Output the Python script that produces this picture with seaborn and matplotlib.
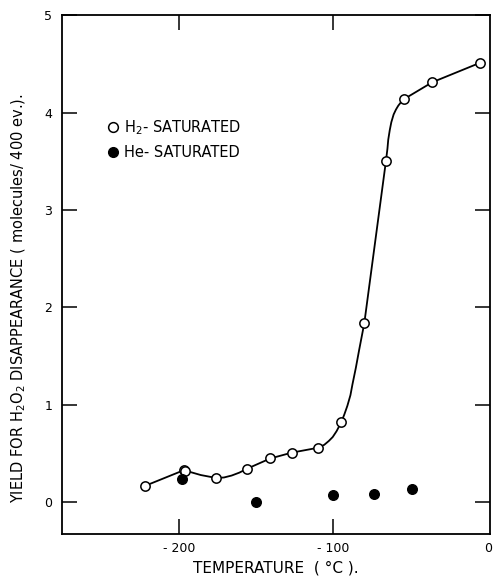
import matplotlib
matplotlib.use("Agg")
import matplotlib.pyplot as plt
import seaborn as sns
import pandas as pd
from matplotlib.lines import Line2D

# H2-saturated measurements (open circles)
h2_temp = [-222, -197, -196, -176, -156, -141, -127, -110, -95, -80, -66, -54, -36, -5]
h2_yield = [0.17, 0.33, 0.32, 0.25, 0.345, 0.45, 0.51, 0.56, 0.82, 1.84, 3.50, 4.14, 4.31, 4.51]

# He-saturated measurements (filled circles)
he_temp = [-198, -150, -100, -74, -49]
he_yield = [0.24, 0.0, 0.075, 0.09, 0.14]

# hand-drawn curve through the H2 points
curve_temp = [-222, -197, -186, -176, -171, -166, -161, -156, -141, -127, -110, -106, -103,
              -100.5, -98, -95, -93, -91, -89, -87.7, -85.5, -83.4, -80, -66, -65, -64.5,
              -63.5, -62.5, -61, -59.5, -58, -56, -54, -36, -5]
curve_yield = [0.17, 0.33, 0.28, 0.25, 0.255, 0.275, 0.305, 0.345, 0.45, 0.51, 0.56, 0.59,
               0.63, 0.67, 0.73, 0.82, 0.90, 0.99, 1.10, 1.21, 1.38, 1.56, 1.84, 3.50, 3.63,
               3.72, 3.82, 3.90, 3.98, 4.03, 4.07, 4.11, 4.14, 4.31, 4.51]

x_ticks = [-200, -100, 0]
y_ticks = [0, 1, 2, 3, 4, 5]

sns.set_style("ticks")
plt.rcParams['font.family'] = ['DejaVu Sans']
plt.rcParams['text.color'] = 'black'
plt.rcParams['axes.labelcolor'] = 'black'

fig = plt.figure(figsize=(4.98, 5.79), dpi=100)
ax = fig.add_axes([0.1245, 0.0777, 0.8595, 0.8963])

curve = pd.DataFrame({"t": curve_temp, "y": curve_yield})
h2 = pd.DataFrame({"t": h2_temp, "y": h2_yield})
he = pd.DataFrame({"t": he_temp, "y": he_yield})

sns.lineplot(data=curve, x="t", y="y", ax=ax, color="black", linewidth=1.3, sort=False, zorder=2)
sns.scatterplot(data=h2, x="t", y="y", ax=ax, marker="o", s=45, facecolor="white",
                edgecolor="black", linewidth=1.1, zorder=3)
sns.scatterplot(data=he, x="t", y="y", ax=ax, marker="o", s=48, color="black",
                edgecolor="black", linewidth=1.0, zorder=3)

ax.set_xlim(-276, 1.5)
ax.set_ylim(-0.325, 5)
ax.set_xticks(x_ticks)
ax.set_xticklabels(["- 200", "- 100", "0"])
ax.set_yticks(y_ticks)
ax.set_yticklabels([str(v) for v in y_ticks])
ax.tick_params(axis="both", direction="in", length=11, width=1.1, labelsize=9,
               colors="black", labelcolor="black")
ax.tick_params(axis="x", pad=6, top=True)
ax.tick_params(axis="y", pad=7, right=True)
last = ax.xaxis.get_major_ticks()[-1]
last.tick1line.set_visible(False)
last.tick2line.set_visible(False)
for s in ax.spines.values():
    s.set_visible(True)
    s.set_linewidth(1.3)
    s.set_color("black")

ax.set_xlabel("TEMPERATURE  ( °C ).", fontsize=11, labelpad=4, color="black")
ax.set_ylabel("YIELD FOR H$_2$O$_2$ DISAPPEARANCE ( molecules/ 400 ev.).", fontsize=10.5,
              color="black")
ax.yaxis.set_label_coords(-0.08, 0.455)

handles = [
    Line2D([], [], marker="o", linestyle="none", markersize=7, markerfacecolor="white",
           markeredgecolor="black", markeredgewidth=1.1),
    Line2D([], [], marker="o", linestyle="none", markersize=7, markerfacecolor="black",
           markeredgecolor="black"),
]
leg = ax.legend(handles, ["H$_2$- SATURATED", "He- SATURATED"], loc="upper left",
                bbox_to_anchor=(0.071, 0.827), frameon=False, fontsize=10.5, handletextpad=0.3,
                labelspacing=0.55, handlelength=1.0)
for t in leg.get_texts():
    t.set_color("black")

fig.savefig("out.png", dpi=100)
